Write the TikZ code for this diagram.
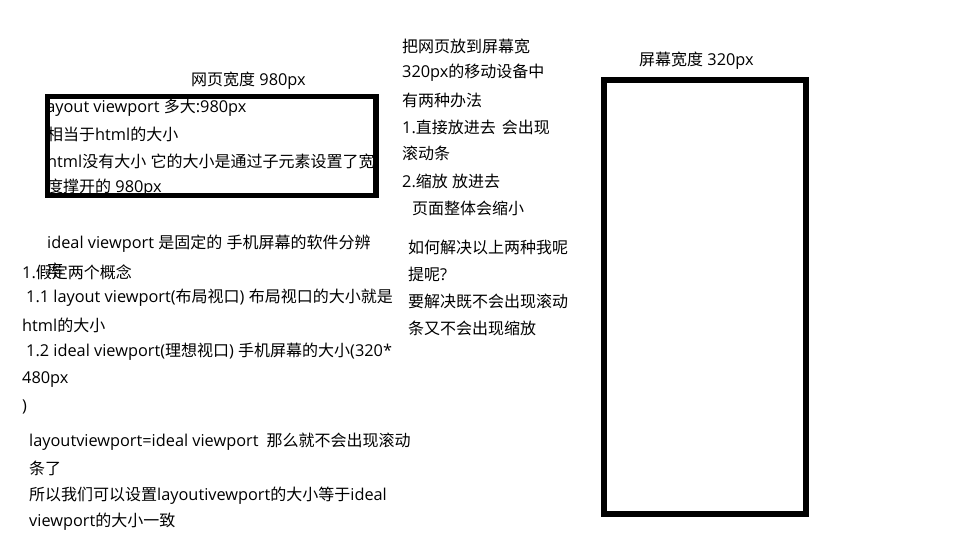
\documentclass[tikz,border=0pt]{standalone}
\usepackage{fontspec}
\setmainfont{Open Sans}[Scale=1.02]
\newfontfamily\latinfont{Open Sans}[Scale=1.02]
\newfontfamily\cjkfont{Noto Sans CJK SC}
\XeTeXinterchartokenstate=1
\newXeTeXintercharclass\CJKcls
\newcount\cjkcnt
\cjkcnt="4E00
\loop
  \XeTeXcharclass\cjkcnt=\CJKcls
  \advance\cjkcnt by 1
\ifnum\cjkcnt<"A000 \repeat
\XeTeXinterchartoks 0 \CJKcls = {\cjkfont}
\XeTeXinterchartoks 4095 \CJKcls = {\cjkfont}
\XeTeXinterchartoks \CJKcls 0 = {\latinfont}
\XeTeXinterchartoks \CJKcls 4095 = {\latinfont}
\begin{document}
\begin{tikzpicture}[x=1pt,y=-1pt,
  txt/.style={anchor=west,inner sep=0pt,font=\fontsize{16}{20}\selectfont,text=black},
  frame/.style={draw=black,line width=5.5pt,inner sep=0pt,outer sep=0pt,anchor=north west}]
\useasboundingbox (0,0) rectangle (969,550);
% top label of page box
\node[txt] (lab1) at (191,81) {网页宽度 980px};
% text inside page box (clipped by the frame)
\begin{scope}
\clip (45,93) rectangle (379,198);
\node[txt] (b1) at (42,108) {layout viewport 多大:980px};
\node[txt] (b2) at (47,134) {相当于html的大小};
\node[txt] (b3) at (47,161) {html没有大小 它的大小是通过子元素设置了宽};
\node[txt] (b4) at (47,188) {度撑开的 980px};
\end{scope}
\node[frame,minimum width=328.5pt,minimum height=99pt] (page) at (47.5,96.5) {};
% left column
\node[txt] (i1) at (47,244) {ideal viewport 是固定的 手机屏幕的软件分辨};
\node[txt] (i2) at (47,270) {率};
\node[txt] (c1) at (22,272) {1.假定两个概念};
\node[txt] (c2) at (26,298) {1.1 layout viewport(布局视口) 布局视口的大小就是};
\node[txt] (c3) at (22,325) {html的大小};
\node[txt] (c4) at (26,352) {1.2 ideal viewport(理想视口) 手机屏幕的大小(320*};
\node[txt] (c5) at (22,380) {480px};
\node[txt] (c6) at (22,407) {)};
\node[txt] (d1) at (29,442) {layoutviewport=ideal viewport\hspace{8pt}那么就不会出现滚动};
\node[txt] (d2) at (29,468) {条了};
\node[txt] (d3) at (29,496) {所以我们可以设置layoutivewport的大小等于ideal};
\node[txt] (d4) at (29,522) {viewport的大小一致};
% middle column
\node[txt] (m1) at (402,46) {把网页放到屏幕宽};
\node[txt] (m2) at (402,73) {320px的移动设备中};
\node[txt] (m3) at (402,100) {有两种办法};
\node[txt] (m4) at (402,127) {1.直接放进去\hspace{6pt}会出现};
\node[txt] (m5) at (402,153) {滚动条};
\node[txt] (m6) at (402,181) {2.缩放 放进去};
\node[txt] (m7) at (412,208) {页面整体会缩小};
\node[txt] (q1) at (408,247) {如何解决以上两种我呢};
\node[txt] (q2) at (408,274) {提呢?};
\node[txt] (q3) at (408,301) {要解决既不会出现滚动};
\node[txt] (q4) at (408,328) {条又不会出现缩放};
% screen box
\node[txt] (lab2) at (639,61) {屏幕宽度 320px};
\node[frame,minimum width=202pt,minimum height=434pt] (screen) at (604,80) {};
\end{tikzpicture}
\end{document}
